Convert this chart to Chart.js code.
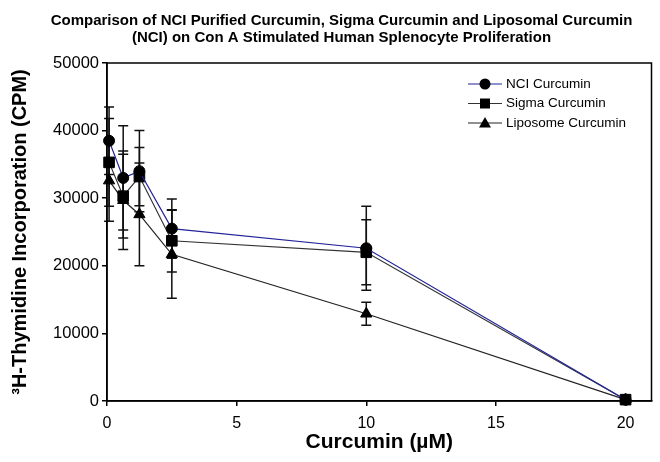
<!DOCTYPE html>
<html>
<head>
<meta charset="utf-8">
<script src="https://cdn.jsdelivr.net/npm/chart.js@4.4.0/dist/chart.umd.min.js"></script>
<style>
  body { margin: 0; background: #fff; }
  #wrap { width: 660px; height: 462px; }
</style>
</head>
<body>
<div id="wrap"><canvas id="chart" width="660" height="462"></canvas></div>
<script>
// data
const doses = [0.08, 0.625, 1.25, 2.5, 10, 20];
const nciCpm = [38500, 33000, 34000, 25500, 22600, 200];
const nciErr = [5000, 7700, 6000, 4400, 6200, 0];
const sigmaCpm = [35300, 30300, 33200, 23700, 22000, 200];
const sigmaErr = [6500, 6200, 4300, 4600, 4800, 0];
const lipoCpm = [32600, 29700, 27600, 21700, 12900, 200];
const lipoErr = [6000, 7300, 7600, 6500, 1700, 0];
const xTicks = [0, 5, 10, 15, 20];

const FONT = "'Liberation Sans', Arial, sans-serif";

function pts(vals){
  return doses.map((d, i) => ({ x: d, y: vals[i] }));
}

// error bars, drawn behind the markers
const errorBars = {
  id: 'errorBars',
  beforeDatasetsDraw(chart){
    const c = chart.ctx;
    const ys = chart.scales.y;
    c.save();
    c.strokeStyle = '#111';
    c.lineWidth = 1.5;
    chart.data.datasets.forEach((ds, di) => {
      const meta = chart.getDatasetMeta(di);
      ds.errors.forEach((e, i) => {
        if(!e) return;
        const p = meta.data[i];
        const v = ds.data[i].y;
        const top = ys.getPixelForValue(v + e);
        const bot = ys.getPixelForValue(v - e);
        c.beginPath();
        c.moveTo(p.x, top); c.lineTo(p.x, bot);
        c.moveTo(p.x - 5, top); c.lineTo(p.x + 5, top);
        c.moveTo(p.x - 5, bot); c.lineTo(p.x + 5, bot);
        c.stroke();
      });
    });
    c.restore();
  }
};

// frame round the plot + legend with line and marker
const frameAndLegend = {
  id: 'frameAndLegend',
  afterLayout(chart){
    // title sits a bit right of the canvas centre in the reference
    if(chart.titleBlock) chart.titleBlock.left = 26;
  },
  afterDraw(chart){
    const c = chart.ctx;
    const a = chart.chartArea;
    c.save();
    c.strokeStyle = '#000';
    c.lineWidth = 1.5;
    c.strokeRect(a.left, a.top, a.right - a.left, a.bottom - a.top);

    const x0 = 468, x1 = 502;
    let y = 84;
    chart.data.datasets.forEach(ds => {
      c.strokeStyle = ds.borderColor;
      c.lineWidth = 1.2;
      c.beginPath(); c.moveTo(x0, y); c.lineTo(x1, y); c.stroke();
      const mx = (x0 + x1) / 2;
      c.fillStyle = '#000';
      c.beginPath();
      if(ds.pointStyle === 'circle'){
        c.arc(mx, y, 5.5, 0, Math.PI * 2);
      } else if(ds.pointStyle === 'rect'){
        c.rect(mx - 5, y - 5, 10, 10);
      } else {
        c.moveTo(mx, y - 6); c.lineTo(mx + 6, y + 4.5); c.lineTo(mx - 6, y + 4.5); c.closePath();
      }
      c.fill();
      c.fillStyle = '#000';
      c.font = '13.5px ' + FONT;
      c.textBaseline = 'middle';
      c.fillText(ds.label, x1 + 4, y);
      y += 19.5;
    });
    c.restore();
  }
};

const ctx = document.getElementById('chart').getContext('2d');

new Chart(ctx, {
  type: 'line',
  data: {
    datasets: [
      {
        label: 'NCI Curcumin',
        data: pts(nciCpm),
        errors: nciErr,
        borderColor: '#23239a',
        borderWidth: 1.2,
        pointStyle: 'circle',
        pointRadius: 5.5,
        pointBorderWidth: 1,
        pointBackgroundColor: '#000',
        pointBorderColor: '#000',
        clip: false,
        tension: 0
      },
      {
        label: 'Sigma Curcumin',
        data: pts(sigmaCpm),
        errors: sigmaErr,
        borderColor: '#333',
        borderWidth: 1.2,
        pointStyle: 'rect',
        pointRadius: 7.5,
        pointBorderWidth: 1,
        pointBackgroundColor: '#000',
        pointBorderColor: '#000',
        clip: false,
        tension: 0
      },
      {
        label: 'Liposome Curcumin',
        data: pts(lipoCpm),
        errors: lipoErr,
        borderColor: '#222',
        borderWidth: 1.2,
        pointStyle: 'triangle',
        pointRadius: 6.5,
        pointBorderWidth: 1,
        pointBackgroundColor: '#000',
        pointBorderColor: '#000',
        clip: false,
        tension: 0
      }
    ]
  },
  options: {
    responsive: false,
    animation: false,
    layout: { padding: { left: 0, right: 3, top: 0, bottom: 0 } },
    plugins: {
      legend: { display: false },
      tooltip: { enabled: false },
      title: {
        display: true,
        text: ['Comparison of NCI Purified Curcumin, Sigma Curcumin and Liposomal Curcumin',
               '(NCI) on Con A Stimulated Human Splenocyte Proliferation'],
        color: '#000',
        font: { family: FONT, size: 15, weight: 'bold', lineHeight: 1.1 },
        padding: { top: 13, bottom: 17 }
      }
    },
    scales: {
      x: {
        type: 'linear',
        min: 0,
        max: 21,
        afterBuildTicks(s){ s.ticks = xTicks.map(v => ({ value: v })); },
        afterFit(s){ s.height = 61; },
        grid: { drawOnChartArea: false, drawTicks: true, tickLength: 5, color: '#000', lineWidth: 1.5 },
        border: { color: '#000', width: 1.5 },
        ticks: { color: '#000', padding: 8, font: { family: FONT, size: 16 } },
        title: {
          display: true,
          text: 'Curcumin (µM)',
          color: '#000',
          font: { family: FONT, size: 21, weight: 'bold' },
          padding: { top: 4, bottom: 7 }
        }
      },
      y: {
        min: 0,
        max: 50000,
        afterFit(s){ s.width = 107; },
        grid: { drawOnChartArea: false, drawTicks: true, tickLength: 5, color: '#000', lineWidth: 1.5 },
        border: { color: '#000', width: 1.5 },
        ticks: {
          stepSize: 10000, color: '#000', padding: 3,
          font: { family: FONT, size: 16.5 },
          callback: v => String(v)
        },
        title: {
          display: true,
          text: '³H-Thymidine Incorporation (CPM)',
          color: '#000',
          font: { family: FONT, size: 20, weight: 'bold' },
          padding: { top: 8, bottom: 0 }
        }
      }
    }
  },
  plugins: [errorBars, frameAndLegend]
});
</script>
</body>
</html>
